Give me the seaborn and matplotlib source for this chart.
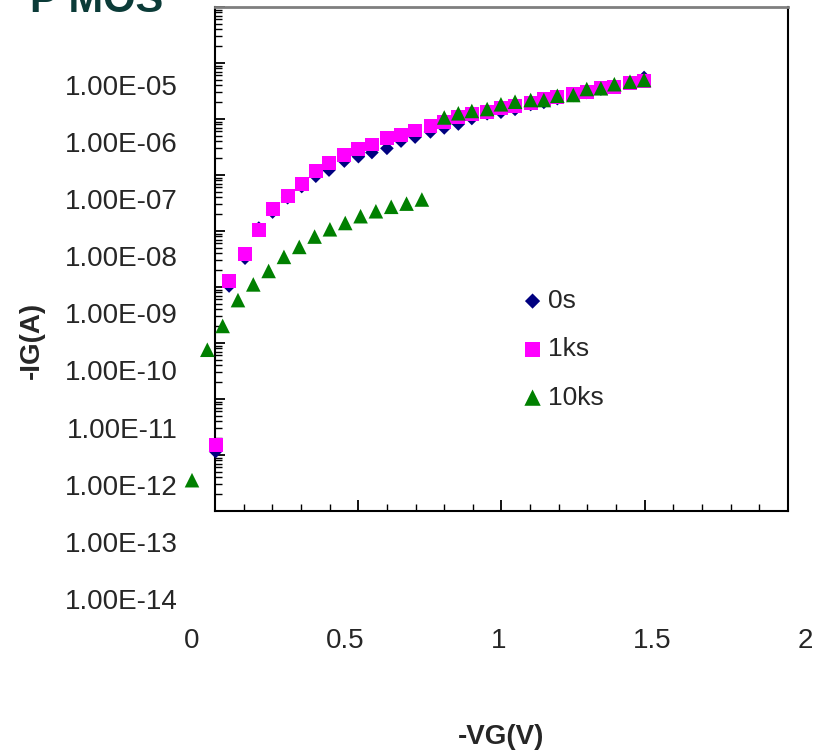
import numpy as np
import pandas as pd
import matplotlib
matplotlib.use("Agg")
import matplotlib.pyplot as plt
import seaborn as sns
from matplotlib.ticker import LogLocator, MultipleLocator, NullFormatter, NullLocator

# ---------------- data ----------------
series_names = ["0s", "1ks", "10ks"]

vg_0s = [0.077, 0.121, 0.173, 0.218, 0.263, 0.312, 0.358, 0.404, 0.447, 0.497,
         0.543, 0.587, 0.636, 0.682, 0.728, 0.778, 0.823, 0.869, 0.913, 0.963,
         1.008, 1.054, 1.105, 1.148, 1.192, 1.244, 1.288, 1.334, 1.378, 1.429, 1.475]
ig_0s = [3.8e-12, 3.0e-9, 9.2e-9, 3.1e-8, 5.9e-8, 1.05e-7, 1.65e-7, 2.5e-7, 3.2e-7, 4.6e-7,
         5.5e-7, 6.5e-7, 7.7e-7, 1.03e-6, 1.21e-6, 1.49e-6, 1.75e-6, 2.05e-6, 2.56e-6, 3.1e-6,
         3.3e-6, 3.7e-6, 4.5e-6, 4.9e-6, 5.7e-6, 6.5e-6, 7.3e-6, 8.4e-6, 9.2e-6, 1.08e-5, 1.34e-5]

vg_1ks = [0.077, 0.121, 0.173, 0.218, 0.263, 0.312, 0.358, 0.404, 0.447, 0.497,
          0.543, 0.587, 0.636, 0.682, 0.728, 0.778, 0.823, 0.869, 0.913, 0.963,
          1.008, 1.054, 1.105, 1.148, 1.192, 1.244, 1.288, 1.334, 1.378, 1.429, 1.475]
ig_1ks = [5.0e-12, 3.7e-9, 1.08e-8, 2.9e-8, 6.6e-8, 1.14e-7, 1.8e-7, 3.1e-7, 4.3e-7, 5.8e-7,
          7.5e-7, 9.0e-7, 1.18e-6, 1.32e-6, 1.58e-6, 1.89e-6, 2.25e-6, 2.7e-6, 3.07e-6, 3.37e-6,
          3.86e-6, 4.24e-6, 4.72e-6, 5.55e-6, 6.0e-6, 6.8e-6, 7.5e-6, 8.65e-6, 9.2e-6, 1.08e-5, 1.17e-5]

vg_10ks = [0.0, 0.05, 0.10, 0.15, 0.20, 0.25, 0.30, 0.35, 0.40, 0.45, 0.50, 0.55, 0.60,
           0.65, 0.70, 0.75,
           0.823, 0.869, 0.913, 0.963, 1.008, 1.054, 1.105, 1.148, 1.192, 1.244, 1.288,
           1.334, 1.378, 1.429, 1.475]
ig_10ks = [1.2e-12, 2.3e-10, 6.0e-10, 1.7e-9, 3.2e-9, 5.5e-9, 9.7e-9, 1.45e-8, 2.2e-8,
           2.95e-8, 3.8e-8, 5.0e-8, 6.1e-8, 7.3e-8, 8.3e-8, 9.8e-8,
           2.67e-6, 3.16e-6, 3.47e-6, 3.75e-6, 4.54e-6, 5.04e-6, 5.39e-6, 5.39e-6, 6.41e-6,
           6.6e-6, 8.4e-6, 8.65e-6, 1.02e-5, 1.13e-5, 1.21e-5]

x_tick_values = [0, 0.5, 1, 1.5, 2]
x_tick_labels = ["0", "0.5", "1", "1.5", "2"]
y_tick_values = [1e-5, 1e-6, 1e-7, 1e-8, 1e-9, 1e-10, 1e-11, 1e-12, 1e-13, 1e-14]
y_tick_labels = ["1.00E-05", "1.00E-06", "1.00E-07", "1.00E-08", "1.00E-09",
                 "1.00E-10", "1.00E-11", "1.00E-12", "1.00E-13", "1.00E-14"]

title_text = "P MOS"
x_label = "-VG(V)"
y_label = "-IG(A)"

# ---------------- styling ----------------
sns.set_style("white")
plt.rcParams["font.family"] = ["Liberation Sans", "DejaVu Sans"]

W, H = 814, 751
fig = plt.figure(figsize=(W / 100, H / 100), dpi=100)


def rect(l, t, r, b):
    return [l / W, 1 - b / H, (r - l) / W, (b - t) / H]


# frame axes (spines + tick marks)
axA = fig.add_axes(rect(215, 7, 788, 511))
axA.set_xlim(0, 2)
axA.set_yscale("log")
axA.set_ylim(1e-13, 1e-4)
axA.xaxis.set_major_locator(MultipleLocator(0.5))
axA.xaxis.set_minor_locator(MultipleLocator(0.1))
axA.yaxis.set_major_locator(LogLocator(base=10, numticks=30))
axA.yaxis.set_minor_locator(LogLocator(base=10, subs=np.arange(2, 10), numticks=30))
axA.yaxis.set_minor_formatter(NullFormatter())
axA.tick_params(axis="x", which="major", direction="in", length=8, width=1.3,
                color="black", bottom=True, top=False, labelbottom=False)
axA.tick_params(axis="x", which="minor", direction="in", length=5, width=1.0,
                color="black", bottom=True, top=False)
axA.tick_params(axis="y", which="major", direction="in", length=7, width=1.3,
                color="black", left=True, right=False, labelleft=False)
axA.tick_params(axis="y", which="minor", direction="in", length=5, width=1.0,
                color="black", left=True, right=False)
for side in ["left", "bottom", "right"]:
    axA.spines[side].set_color("black")
    axA.spines[side].set_linewidth(1.5)
axA.spines["top"].set_color("#7f7f7f")
axA.spines["top"].set_linewidth(2.0)
axA.set_facecolor("white")

# data axes (values + tick labels)
axB = fig.add_axes(rect(192, 84.7, 805, 599))
axB.patch.set_visible(False)
for s in axB.spines.values():
    s.set_visible(False)

df0 = pd.DataFrame({"VG": vg_0s, "IG": ig_0s})
df1 = pd.DataFrame({"VG": vg_1ks, "IG": ig_1ks})
df2 = pd.DataFrame({"VG": vg_10ks, "IG": ig_10ks})

sns.scatterplot(data=df0, x="VG", y="IG", ax=axB, marker="D", s=48, color="#000080",
                edgecolor="none", linewidth=0, label=series_names[0], clip_on=False, zorder=3)
sns.scatterplot(data=df1, x="VG", y="IG", ax=axB, marker="s", s=100, color="#FF00FF",
                edgecolor="none", linewidth=0, label=series_names[1], clip_on=False, zorder=4)
sns.scatterplot(data=df2, x="VG", y="IG", ax=axB, marker="^", s=110, color="#008000",
                edgecolor="none", linewidth=0, label=series_names[2], clip_on=False, zorder=5)

axB.set_xlim(0, 2)
axB.set_yscale("log")
axB.set_ylim(1e-14, 1e-5)
axB.set_xticks(x_tick_values)
axB.set_xticklabels(x_tick_labels)
axB.set_yticks(y_tick_values)
axB.set_yticklabels(y_tick_labels)
axB.yaxis.set_minor_locator(NullLocator())
axB.xaxis.set_minor_locator(NullLocator())
axB.tick_params(axis="x", length=0, pad=21, labelsize=20, bottom=True)
axB.tick_params(axis="y", length=0, pad=10, labelsize=20, left=True)
axB.set_xlabel("")
axB.set_ylabel("")

leg = axB.legend(loc="upper left", bbox_to_anchor=(522 / W, 1 - 289 / H),
                 bbox_transform=fig.transFigure, frameon=False, fontsize=19,
                 handlelength=0.8, handletextpad=0.2, labelspacing=0.92,
                 borderpad=0, borderaxespad=0, scatterpoints=1, markerscale=1.12)

fig.text(501 / W, 1 - 737 / H, x_label, ha="center", va="center",
         fontsize=20, fontweight="bold")
fig.text(32 / W, 1 - 340 / H, y_label, ha="center", va="center", rotation=90,
         fontsize=20, fontweight="bold")
fig.text(30 / W, 1 - 12 / H, title_text, ha="left", va="baseline",
         fontsize=30, fontweight="bold", color="#0b3b38")

fig.savefig("out.png", dpi=100, facecolor="white")
